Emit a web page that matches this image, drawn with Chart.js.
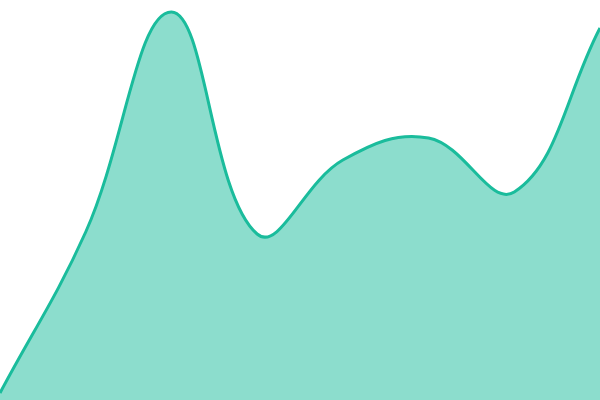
<!DOCTYPE html>
<html>
<head>
<meta charset="utf-8">
<script src="https://cdn.jsdelivr.net/npm/chart.js@4"></script>
<style>
  html, body { margin: 0; padding: 0; background: #fff; }
  #wrap { width: 600px; height: 400px; }
</style>
</head>
<body>
<div id="wrap"><canvas id="area-chart"></canvas></div>
<script>
const labels = ['1', '2', '3', '4', '5', '6', '7', '8'];
const values = [1.75, 42, 97, 41.5, 60, 65.5, 52, 93];

const ctx = document.getElementById('area-chart');

new Chart(ctx, {
  type: 'line',
  data: {
    labels: labels,
    datasets: [{
      data: values,
      borderColor: '#1abc9c',
      backgroundColor: 'rgba(26, 188, 156, 0.5)',
      borderWidth: 3,
      tension: 0.4,
      fill: 'start',
      pointRadius: 0
    }]
  },
  options: {
    responsive: true,
    maintainAspectRatio: false,
    animation: false,
    layout: { padding: 0 },
    scales: {
      x: { display: false },
      y: { display: false, min: 0, max: 100 }
    },
    plugins: {
      legend: { display: false },
      tooltip: { enabled: false }
    }
  }
});
</script>
</body>
</html>
